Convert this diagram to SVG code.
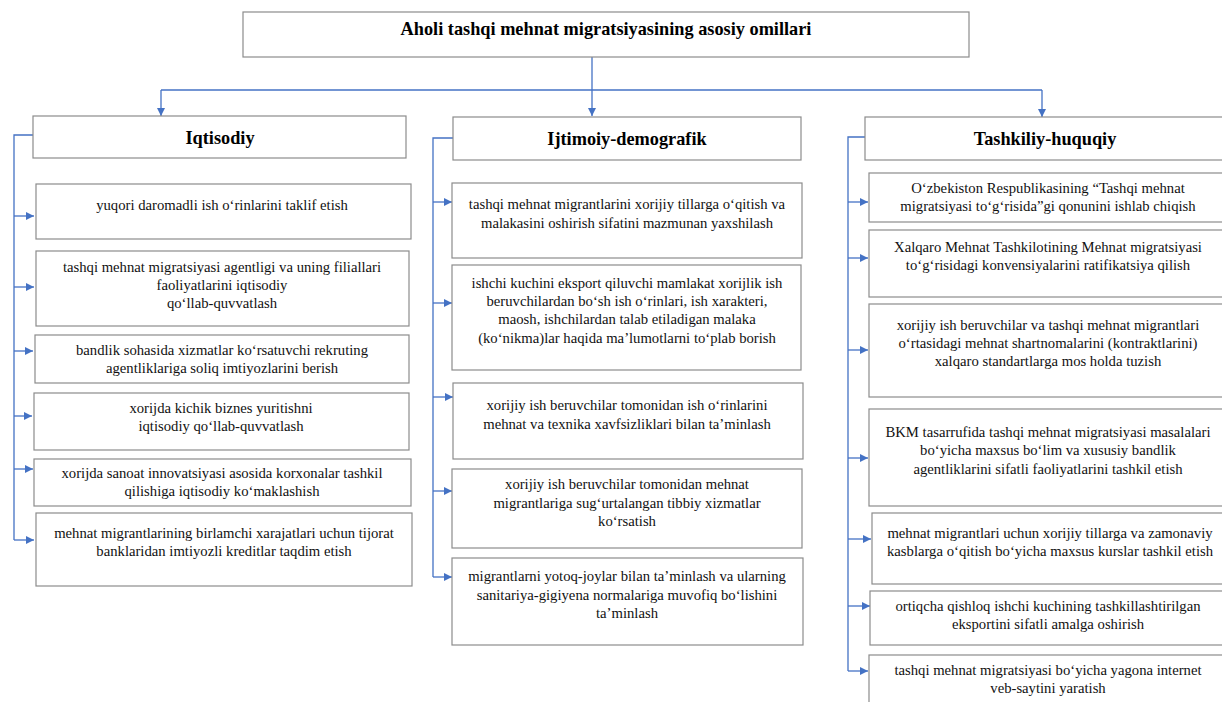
<svg xmlns="http://www.w3.org/2000/svg" width="1222" height="702" viewBox="0 0 1222 702">
<style>
.box{fill:#fff;stroke:#8c8c8c;stroke-width:1.2}
.t{font-family:"Liberation Serif","Times New Roman",serif;font-size:14.7px;fill:#111;text-anchor:middle}
.h{font-family:"Liberation Serif","Times New Roman",serif;font-size:18.3px;font-weight:bold;fill:#000;text-anchor:middle}
.c{fill:none;stroke:#4472C4;stroke-width:1.3}
</style>
<defs>
<marker id="ah" viewBox="0 0 10 10" refX="10" refY="5" markerWidth="8" markerHeight="8" markerUnits="userSpaceOnUse" orient="auto">
<path d="M0,0 L10,5 L0,10 z" fill="#4472C4"/>
</marker>
</defs>
<rect width="1222" height="702" fill="#fff"/>
<g id="connectors">
<path class="c" d="M592,57 V116" marker-end="url(#ah)"/>
<path class="c" d="M161,90 H1042"/>
<path class="c" d="M161,90 V116" marker-end="url(#ah)"/>
<path class="c" d="M1042,90 V117" marker-end="url(#ah)"/>
<path class="c" d="M33,135 H14 V540"/>
<path class="c" d="M14,216 H34" marker-end="url(#ah)"/>
<path class="c" d="M14,287 H34" marker-end="url(#ah)"/>
<path class="c" d="M14,351 H33" marker-end="url(#ah)"/>
<path class="c" d="M14,416 H32" marker-end="url(#ah)"/>
<path class="c" d="M14,469 H33" marker-end="url(#ah)"/>
<path class="c" d="M14,540 H34" marker-end="url(#ah)"/>
<path class="c" d="M453,138 H433 V577"/>
<path class="c" d="M433,202 H452" marker-end="url(#ah)"/>
<path class="c" d="M433,303 H452" marker-end="url(#ah)"/>
<path class="c" d="M433,397 H453" marker-end="url(#ah)"/>
<path class="c" d="M433,491 H452" marker-end="url(#ah)"/>
<path class="c" d="M433,577 H452" marker-end="url(#ah)"/>
<path class="c" d="M865,137 H848 V671"/>
<path class="c" d="M848,202 H868" marker-end="url(#ah)"/>
<path class="c" d="M848,258 H868" marker-end="url(#ah)"/>
<path class="c" d="M848,350 H868" marker-end="url(#ah)"/>
<path class="c" d="M848,458 H868" marker-end="url(#ah)"/>
<path class="c" d="M848,539 H871" marker-end="url(#ah)"/>
<path class="c" d="M848,606 H870" marker-end="url(#ah)"/>
<path class="c" d="M848,671 H868" marker-end="url(#ah)"/>
</g>
<g id="root"><rect class="box" x="243" y="12" width="726" height="45"/><text class="h" x="606" y="35">Aholi tashqi mehnat migratsiyasining asosiy omillari</text></g>
<g id="h1"><rect class="box" x="33" y="116" width="373" height="42"/><text class="h" x="220" y="144">Iqtisodiy</text></g>
<g id="h2"><rect class="box" x="453" y="117" width="348" height="43"/><text class="h" x="627" y="145">Ijtimoiy-demografik</text></g>
<g id="h3"><rect class="box" x="865" y="117" width="360" height="43"/><text class="h" x="1045" y="145">Tashkiliy-huquqiy</text></g>

<g id="a1"><rect class="box" x="36" y="184" width="375" height="55"/><text class="t" x="222" y="210">yuqori daromadli ish o‘rinlarini taklif etish</text></g>
<g id="a2"><rect class="box" x="36" y="251" width="373" height="75"/><text class="t" x="222" y="272">tashqi mehnat migratsiyasi agentligi va uning filiallari</text><text class="t" x="222" y="290">faoliyatlarini iqtisodiy</text><text class="t" x="222" y="308">qo‘llab-quvvatlash</text></g>
<g id="a3"><rect class="box" x="35" y="335" width="374" height="48"/><text class="t" x="222" y="355">bandlik sohasida xizmatlar ko‘rsatuvchi rekruting</text><text class="t" x="222" y="373">agentliklariga soliq imtiyozlarini berish</text></g>
<g id="a4"><rect class="box" x="34" y="393" width="375" height="57"/><text class="t" x="221" y="413">xorijda kichik biznes yuritishni</text><text class="t" x="221" y="431">iqtisodiy qo‘llab-quvvatlash</text></g>
<g id="a5"><rect class="box" x="34" y="459" width="377" height="47"/><text class="t" x="222" y="478">xorijda sanoat innovatsiyasi asosida korxonalar tashkil</text><text class="t" x="222" y="496">qilishiga iqtisodiy ko‘maklashish</text></g>
<g id="a6"><rect class="box" x="36" y="513" width="376" height="73"/><text class="t" x="224" y="538">mehnat migrantlarining birlamchi xarajatlari uchun tijorat</text><text class="t" x="224" y="556">banklaridan imtiyozli kreditlar taqdim etish</text></g>

<g id="b1"><rect class="box" x="452" y="183" width="350" height="75"/><text class="t" x="627" y="209">tashqi mehnat migrantlarini xorijiy tillarga o‘qitish va</text><text class="t" x="627" y="228">malakasini oshirish sifatini mazmunan yaxshilash</text></g>
<g id="b2"><rect class="box" x="452" y="265" width="349" height="105"/><text class="t" x="627" y="288">ishchi kuchini eksport qiluvchi mamlakat xorijlik ish</text><text class="t" x="627" y="306">beruvchilardan bo‘sh ish o‘rinlari, ish xarakteri,</text><text class="t" x="627" y="324">maosh, ishchilardan talab etiladigan malaka</text><text class="t" x="627" y="343">(ko‘nikma)lar haqida ma’lumotlarni to‘plab borish</text></g>
<g id="b3"><rect class="box" x="453" y="383" width="350" height="76"/><text class="t" x="627" y="410">xorijiy ish beruvchilar tomonidan ish o‘rinlarini</text><text class="t" x="627" y="429">mehnat va texnika xavfsizliklari bilan ta’minlash</text></g>
<g id="b4"><rect class="box" x="452" y="469" width="350" height="79"/><text class="t" x="627" y="489">xorijiy ish beruvchilar tomonidan mehnat</text><text class="t" x="627" y="508">migrantlariga sug‘urtalangan tibbiy xizmatlar</text><text class="t" x="627" y="526">ko‘rsatish</text></g>
<g id="b5"><rect class="box" x="452" y="558" width="351" height="87"/><text class="t" x="627" y="581">migrantlarni yotoq-joylar bilan ta’minlash va ularning</text><text class="t" x="627" y="600">sanitariya-gigiyena normalariga muvofiq bo‘lishini</text><text class="t" x="627" y="618">ta’minlash</text></g>

<g id="c1"><rect class="box" x="869" y="173" width="356" height="49"/><text class="t" x="1048" y="193">O‘zbekiston Respublikasining “Tashqi mehnat</text><text class="t" x="1048" y="211">migratsiyasi to‘g‘risida”gi qonunini ishlab chiqish</text></g>
<g id="c2"><rect class="box" x="869" y="230" width="356" height="67"/><text class="t" x="1048" y="252">Xalqaro Mehnat Tashkilotining Mehnat migratsiyasi</text><text class="t" x="1048" y="270">to‘g‘risidagi konvensiyalarini ratifikatsiya qilish</text></g>
<g id="c3"><rect class="box" x="869" y="304" width="356" height="93"/><text class="t" x="1048" y="330">xorijiy ish beruvchilar va tashqi mehnat migrantlari</text><text class="t" x="1048" y="348">o‘rtasidagi mehnat shartnomalarini (kontraktlarini)</text><text class="t" x="1048" y="366">xalqaro standartlarga mos holda tuzish</text></g>
<g id="c4"><rect class="box" x="869" y="409" width="356" height="97"/><text class="t" x="1048" y="437">BKM tasarrufida tashqi mehnat migratsiyasi masalalari</text><text class="t" x="1048" y="455">bo‘yicha maxsus bo‘lim va xususiy bandlik</text><text class="t" x="1048" y="474">agentliklarini sifatli faoliyatlarini tashkil etish</text></g>
<g id="c5"><rect class="box" x="872" y="513" width="353" height="71"/><text class="t" x="1050" y="538">mehnat migrantlari uchun xorijiy tillarga va zamonaviy</text><text class="t" x="1050" y="556">kasblarga o‘qitish bo‘yicha maxsus kurslar tashkil etish</text></g>
<g id="c6"><rect class="box" x="870" y="591" width="355" height="54"/><text class="t" x="1048" y="611">ortiqcha qishloq ishchi kuchining tashkillashtirilgan</text><text class="t" x="1048" y="629">eksportini sifatli amalga oshirish</text></g>
<g id="c7"><rect class="box" x="869" y="655" width="356" height="60"/><text class="t" x="1048" y="675">tashqi mehnat migratsiyasi bo‘yicha yagona internet</text><text class="t" x="1048" y="693">veb-saytini yaratish</text></g>
</svg>
